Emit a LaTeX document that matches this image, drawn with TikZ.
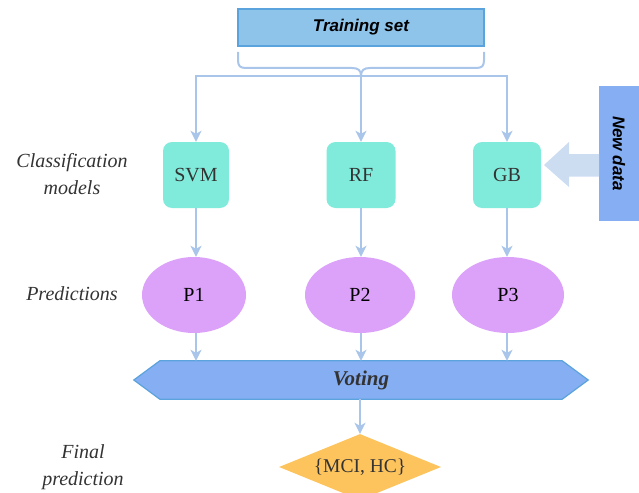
\documentclass[tikz,border=0pt]{standalone}
\usepackage{fontspec}
\setmainfont{Liberation Serif}
\setsansfont{Liberation Sans}
\usetikzlibrary{shapes.geometric,arrows.meta,calc}
\definecolor{tsfill}{HTML}{8EC3EA}
\definecolor{bord}{HTML}{5BA3DD}
\definecolor{modfill}{HTML}{80EBDB}
\definecolor{predfill}{HTML}{DCA2FA}
\definecolor{votefill}{HTML}{86AEF2}
\definecolor{finfill}{HTML}{FDC45E}
\definecolor{barrow}{HTML}{CCDCF1}
\definecolor{conn}{HTML}{A9C5EA}
\definecolor{txt}{HTML}{333333}
\begin{document}
\begin{tikzpicture}[x=1pt,y=-1pt,
  line/.style={draw=conn,line width=2pt},
  link/.style={line,-{Stealth[length=11pt,width=11pt,inset=3pt]}},
  model/.style={rectangle,rounded corners=9pt,fill=modfill,minimum width=66pt,minimum height=66pt,font=\fontsize{20}{24}\selectfont,text=txt},
  pred/.style={ellipse,fill=predfill,minimum height=76pt,font=\fontsize{20}{24}\selectfont,text=black},
  side/.style={align=center,font=\fontsize{20}{27}\selectfont\itshape,text=txt}]
\useasboundingbox (0,0) rectangle (639,492);
% training set
\node[draw=bord,line width=1.2pt,fill=tsfill,minimum width=246pt,minimum height=37pt,font=\sffamily\bfseries\itshape\fontsize{17}{20}\selectfont] (ts) at (361,27.5) {Training set};
\draw[line] (238,52) -- (238,60) .. controls (238,66) and (240,68) .. (246,68) -- (352,68) .. controls (358,68) and (361,70) .. (361,76) .. controls (361,70) and (364,68) .. (370,68) -- (476,68) .. controls (482,68) and (484,66) .. (484,60) -- (484,52);
\coordinate (bar) at (361,76);
% models
\node[model] (svm) at (196,175) {SVM};
\node[model,minimum width=69pt] (rf) at (361,175) {RF};
\node[model,minimum width=68pt] (gb) at (507,175) {GB};
\draw[link] (bar) -| (svm.north);
\draw[link] (bar) -- (rf.north);
\draw[link] (bar) -| (gb.north);
% new data
\node[fill=votefill,minimum width=42pt,minimum height=135pt,inner sep=0pt] (nd) at (620,153.5) {};
\node[rotate=-90,font=\sffamily\bfseries\itshape\fontsize{17}{20}\selectfont] (ndt) at (619,153.5) {New data};
\fill[barrow] (599,154) -- (569,154) -- (569,142) -- (544,165) -- (569,187) -- (569,176.5) -- (599,176.5) -- cycle;
% predictions
\node[pred,minimum width=104pt] (p1) at (194,295) {P1};
\node[pred,minimum width=110pt] (p2) at (360,295) {P2};
\node[pred,minimum width=112pt] (p3) at (508,295) {P3};
\draw[link] (svm.south) -- (svm.south |- p1.north);
\draw[link] (rf.south) -- (rf.south |- p2.north);
\draw[link] (gb.south) -- (gb.south |- p3.north);
% voting
\node[minimum width=454pt,minimum height=38pt,inner sep=0pt] (vote) at (361,380) {};
\draw[draw=bord,line width=1.2pt,fill=votefill] (vote.west) -- ($(vote.north west)+(26,0)$) -- ($(vote.north east)+(-26,0)$) -- (vote.east) -- ($(vote.south east)+(-26,0)$) -- ($(vote.south west)+(26,0)$) -- cycle;
\node[font=\bfseries\itshape\fontsize{21}{24}\selectfont,text=txt] at (vote.center) {Voting};
\draw[link] (p1.south -| svm.south) -- (svm.south |- vote.north);
\draw[link] (p2.south -| rf.south) -- (rf.south |- vote.north);
\draw[link] (p3.south -| gb.south) -- (gb.south |- vote.north);
% final
\node[diamond,aspect=2.45,fill=finfill,minimum width=162pt,minimum height=66pt,inner sep=0pt,font=\fontsize{19.5}{23}\selectfont,text=txt] (fin) at (360,467) {\{MCI, HC\}};
\draw[link] (vote.south -| fin.north) -- (fin.north);
% side labels
\node[side] (l1) at (72,174) {Classification\\models};
\node[side] (l2) at (72,294) {Predictions};
\node[side] (l3) at (83,467) {Final\\prediction};
\end{tikzpicture}
\end{document}
